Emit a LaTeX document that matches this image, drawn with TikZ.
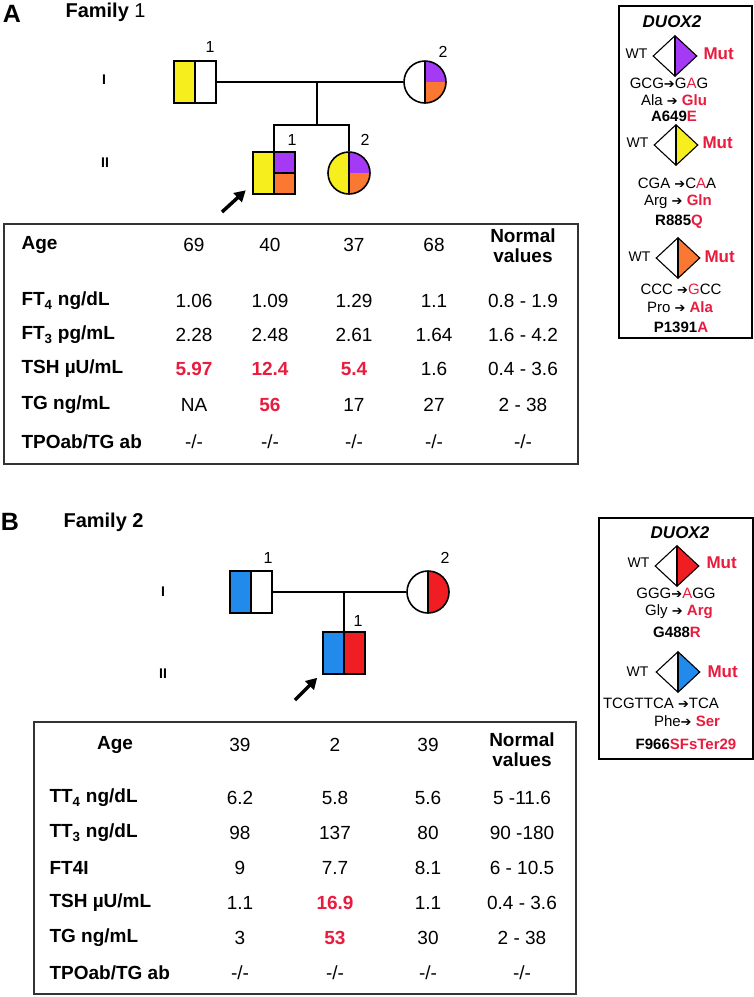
\documentclass[tikz,border=0pt]{standalone}
\usepackage{fontspec}
\setmainfont{Liberation Sans}
\newfontfamily\arrowfont{DejaVu Sans}
\usetikzlibrary{arrows.meta,shapes.geometric}

\definecolor{yel}{RGB}{247,238,30}
\definecolor{pur}{RGB}{164,58,245}
\definecolor{org}{RGB}{250,120,50}
\definecolor{blu}{RGB}{33,138,235}
\definecolor{rd}{RGB}{240,30,35}
\definecolor{hi}{RGB}{232,28,62}
\newcommand{\tarr}{{\arrowfont\fontsize{13}{13}\selectfont ➔}}

\tikzset{quads/.style n args={4}{path picture={
  \fill[#1] (path picture bounding box.north west) rectangle (path picture bounding box.center);
  \fill[#2] (path picture bounding box.north) rectangle (path picture bounding box.east);
  \fill[#3] (path picture bounding box.west) rectangle (path picture bounding box.south);
  \fill[#4] (path picture bounding box.center) rectangle (path picture bounding box.south east);
  \draw[line width=1.4pt] (path picture bounding box.north) -- (path picture bounding box.south);}}}

\begin{document}
\begin{tikzpicture}[x=1pt, y=-1pt,
    male/.style={draw, line width=1.6pt, minimum size=42pt, inner sep=0pt},
    female/.style={draw, circle, line width=1.6pt, minimum size=42pt, inner sep=0pt},
    allele/.style={draw, diamond, line width=1.1pt, minimum width=44pt, minimum height=41pt, inner sep=0pt},
    line/.style={line width=1.5pt},
    prb/.style={line width=3.5pt, -{Triangle[length=11pt,width=12pt]}},
    panel/.style={font=\fontsize{25}{25}\selectfont\bfseries},
    fam/.style={anchor=west, font=\fontsize{20}{22}\selectfont},
    gen/.style={font=\fontsize{14}{16}\selectfont\bfseries},
    num/.style={font=\fontsize{16}{18}\selectfont},
    frame/.style={draw=black!80, line width=1.8pt, anchor=north west, inner sep=0pt},
    lab/.style={anchor=west, font=\fontsize{19}{21}\selectfont\bfseries},
    val/.style={font=\fontsize{19}{21}\selectfont},
    high/.style={font=\fontsize{19}{21}\selectfont\bfseries, text=hi},
    nv/.style={align=center, font=\fontsize{19}{20}\selectfont\bfseries},
    box/.style={draw, line width=1.5pt, anchor=north west, inner sep=0pt},
    gene/.style={font=\fontsize{17}{17}\selectfont\bfseries\itshape},
    wt/.style={anchor=east, font=\fontsize{14}{14}\selectfont},
    mut/.style={anchor=west, text=hi, font=\fontsize{17}{17}\selectfont\bfseries},
    cod/.style={font=\fontsize{15}{15}\selectfont},
    var/.style={font=\fontsize{15}{15}\selectfont\bfseries}
]
\path[use as bounding box] (0,0) rectangle (754,997);

% ---- A: family 1 pedigree
\node[panel] (pA) at (12,14) {A};
\node[fam] (famA) at (62,12) {\textbf{Family} 1};
\node[gen] (gA1) at (104,80) {I};
\node[gen] (gA2) at (105,163) {II};
\node[male, quads={yel}{white}{yel}{white}] (a1) at (195,82) {};
\node[female, quads={white}{pur}{white}{org}] (a2) at (425,82) {};
\node[male, line width=2.6pt, quads={yel}{pur}{yel}{org}] (a3) at (274,173) {};
\node[female, quads={yel}{pur}{yel}{org}] (a4) at (349,173) {};
\draw[line width=2.2pt] (a3.center) -- (a3.east);
\node[num] (na1) at (210,47) {1};
\node[num] (na2) at (443,52) {2};
\node[num] (na3) at (292,140) {1};
\node[num] (na4) at (365,140) {2};
\coordinate (amate) at (317,82);
\coordinate (asib) at (317,125);
\coordinate (aprb) at (222,212);
\draw[line] (a1) -- (a2);
\draw[line] (amate) -- (asib);
\draw[line] (a3) |- (asib) -| (a4);
\draw[prb] (aprb) -- ([xshift=-6pt,yshift=5pt]a3.south west);

% ---- A: table
\node[frame, minimum width=574pt, minimum height=240pt] (tabA) at (3,223) {};
\node[lab] (tA0) at (18,245) {Age};
\node[val] (tA01) at (194,245) {69}; \node[val] (tA02) at (270,245) {40};
\node[val] (tA03) at (354,245) {37}; \node[val] (tA04) at (434,245) {68};
\node[nv] (tA05) at (523,246) {Normal\\values};
\node[lab] (tA1) at (18,301) {FT\textsubscript{4} ng/dL};
\node[val] (tA11) at (194,301) {1.06}; \node[val] (tA12) at (270,301) {1.09};
\node[val] (tA13) at (354,301) {1.29}; \node[val] (tA14) at (434,301) {1.1};
\node[val] (tA15) at (523,301) {0.8 - 1.9};
\node[lab] (tA2) at (18,335) {FT\textsubscript{3} pg/mL};
\node[val] (tA21) at (194,335) {2.28}; \node[val] (tA22) at (270,335) {2.48};
\node[val] (tA23) at (354,335) {2.61}; \node[val] (tA24) at (434,335) {1.64};
\node[val] (tA25) at (523,335) {1.6 - 4.2};
\node[lab] (tA3) at (18,369) {TSH µU/mL};
\node[high] (tA31) at (194,369) {5.97}; \node[high] (tA32) at (270,369) {12.4};
\node[high] (tA33) at (354,369) {5.4}; \node[val] (tA34) at (434,369) {1.6};
\node[val] (tA35) at (523,369) {0.4 - 3.6};
\node[lab] (tA4) at (18,405) {TG ng/mL};
\node[val] (tA41) at (194,405) {NA}; \node[high] (tA42) at (270,405) {56};
\node[val] (tA43) at (354,405) {17}; \node[val] (tA44) at (434,405) {27};
\node[val] (tA45) at (523,405) {2 - 38};
\node[lab] (tA5) at (18,442) {TPOab/TG ab};
\node[val] (tA51) at (194,442) {-/-}; \node[val] (tA52) at (270,442) {-/-};
\node[val] (tA53) at (354,442) {-/-}; \node[val] (tA54) at (434,442) {-/-};
\node[val] (tA55) at (523,442) {-/-};

% ---- A: DUOX2 key
\node[box, minimum width=133pt, minimum height=332pt] (keyA) at (618,5) {};
\node[gene] (gnA) at (672,22) {DUOX2};
\node[allele, quads={white}{pur}{white}{pur}] (dA1) at (675,56) {};
\node[wt] (wA1) at (651,54) {WT}; \node[mut] (mA1) at (700,54) {Mut};
\node[cod] (cA1) at (669,83) {GCG\tarr G\textcolor{hi}{A}G};
\node[cod] (aA1) at (674,100) {Ala \tarr\ \textcolor{hi}{\textbf{Glu}}};
\node[var] (vA1) at (674,116) {A649\textcolor{hi}{E}};
\node[allele, quads={white}{yel}{white}{yel}] (dA2) at (676,145) {};
\node[wt] (wA2) at (652,143) {WT}; \node[mut] (mA2) at (699,143) {Mut};
\node[cod] (cA2) at (677,183) {CGA \tarr C\textcolor{hi}{A}A};
\node[cod] (aA2) at (678,202) {Arg \tarr\ \textcolor{hi}{\textbf{Gln}}};
\node[var] (vA2) at (679,222) {R885\textcolor{hi}{Q}};
\node[allele, quads={white}{org}{white}{org}] (dA3) at (678,258) {};
\node[wt] (wA3) at (654,257) {WT}; \node[mut] (mA3) at (701,257) {Mut};
\node[cod] (cA3) at (681,289) {CCC \tarr\textcolor{hi}{G}CC};
\node[cod] (aA3) at (680,307) {Pro \tarr\ \textcolor{hi}{\textbf{Ala}}};
\node[var] (vA3) at (681,327) {P1391\textcolor{hi}{A}};

% ---- B: family 2 pedigree
\node[panel] (pB) at (10,522) {B};
\node[fam] (famB) at (60,522) {\textbf{Family 2}};
\node[gen] (gB1) at (163,592) {I};
\node[gen] (gB2) at (163,674) {II};
\node[male, quads={blu}{white}{blu}{white}] (b1) at (251,592) {};
\node[female, quads={white}{rd}{white}{rd}] (b2) at (428,592) {};
\node[male, quads={blu}{rd}{blu}{rd}] (b3) at (344,653) {};
\node[num] (nb1) at (268,558) {1};
\node[num] (nb2) at (445,558) {2};
\node[num] (nb3) at (358,621) {1};
\coordinate (bmate) at (344,592);
\coordinate (bprb) at (295,700);
\draw[line] (b1) -- (b2);
\draw[line] (bmate) -- (b3);
\draw[prb] (bprb) -- ([xshift=-5pt,yshift=-3pt]b3.south west);

% ---- B: table
\node[frame, minimum width=542pt, minimum height=272pt] (tabB) at (33,721) {};
\node[val, font=\fontsize{19}{21}\selectfont\bfseries] (tB0) at (115,745) {Age};
\node[val] (tB01) at (240,745) {39}; \node[val] (tB02) at (335,745) {2};
\node[val] (tB03) at (428,745) {39};
\node[nv] (tB04) at (522,750) {Normal\\values};
\node[lab] (tB1) at (46,798) {TT\textsubscript{4} ng/dL};
\node[val] (tB11) at (240,798) {6.2}; \node[val] (tB12) at (335,798) {5.8};
\node[val] (tB13) at (428,798) {5.6}; \node[val] (tB14) at (522,798) {5 -11.6};
\node[lab] (tB2) at (46,833) {TT\textsubscript{3} ng/dL};
\node[val] (tB21) at (240,833) {98}; \node[val] (tB22) at (335,833) {137};
\node[val] (tB23) at (428,833) {80}; \node[val] (tB24) at (522,833) {90 -180};
\node[lab] (tB3) at (46,868) {FT4I};
\node[val] (tB31) at (240,868) {9}; \node[val] (tB32) at (335,868) {7.7};
\node[val] (tB33) at (428,868) {8.1}; \node[val] (tB34) at (522,868) {6 - 10.5};
\node[lab] (tB4) at (46,903) {TSH µU/mL};
\node[val] (tB41) at (240,903) {1.1}; \node[high] (tB42) at (335,903) {16.9};
\node[val] (tB43) at (428,903) {1.1}; \node[val] (tB44) at (522,903) {0.4 - 3.6};
\node[lab] (tB5) at (46,938) {TG ng/mL};
\node[val] (tB51) at (240,938) {3}; \node[high] (tB52) at (335,938) {53};
\node[val] (tB53) at (428,938) {30}; \node[val] (tB54) at (522,938) {2 - 38};
\node[lab] (tB6) at (46,973) {TPOab/TG ab};
\node[val] (tB61) at (240,973) {-/-}; \node[val] (tB62) at (335,973) {-/-};
\node[val] (tB63) at (428,973) {-/-}; \node[val] (tB64) at (522,973) {-/-};

% ---- B: DUOX2 key
\node[box, minimum width=154pt, minimum height=241pt] (keyB) at (598,517) {};
\node[gene] (gnB) at (680,533) {DUOX2};
\node[allele, quads={white}{rd}{white}{rd}] (dB1) at (677,566) {};
\node[wt] (wB1) at (653,563) {WT}; \node[mut] (mB1) at (703,563) {Mut};
\node[cod] (cB1) at (676,593) {GGG\tarr\textcolor{hi}{A}GG};
\node[cod] (aB1) at (679,612) {Gly \tarr\ \textcolor{hi}{\textbf{Arg}}};
\node[var] (vB1) at (677,632) {G488\textcolor{hi}{R}};
\node[allele, quads={white}{blu}{white}{blu}] (dB2) at (678,672) {};
\node[wt] (wB2) at (652,672) {WT}; \node[mut] (mB2) at (704,672) {Mut};
\node[cod] (cB2) at (661,703) {TCGTTCA \tarr TCA};
\node[cod] (aB2) at (687,721) {Phe\tarr\ \textcolor{hi}{\textbf{Ser}}};
\node[var] (vB2) at (686,744) {F966\textcolor{hi}{SFsTer29}};
\end{tikzpicture}
\end{document}
